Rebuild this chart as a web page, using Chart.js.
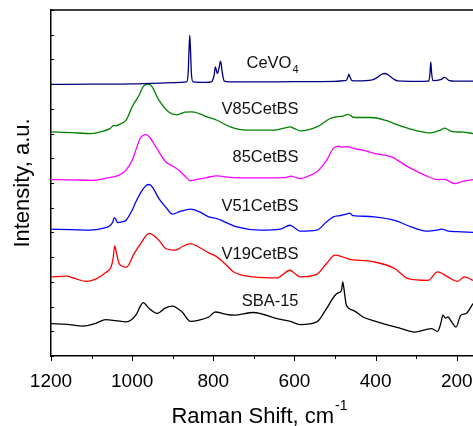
<!DOCTYPE html>
<html>
  <head>
    <script src="https://cdn.jsdelivr.net/npm/chart.js"></script>
    <style>
      html, body { margin: 0; padding: 0; background: #fff; overflow: hidden; }
      #wrap { width: 473px; height: 426px; }
    </style>
  </head>
  <body>
    <div id="wrap">
      <canvas id="Chart"></canvas>
    </div>
    <script>
      // Raman spectra, stacked with offsets (intensity in a.u. as plotted)
      const ceVO4X = [1200, 1100, 1000, 900, 880, 866, 862, 860, 858, 856, 854, 850, 820, 805, 798, 795, 790, 786, 782, 778, 773, 760, 700, 600, 500, 478, 472, 468, 466, 463, 458, 443, 411, 395, 385, 377, 368, 355, 345, 296, 272, 269, 266, 264, 262, 259, 240, 230, 218, 206, 160];
      const ceVO4Y = [10.99, 11.00, 11.01, 11.06, 11.07, 11.09, 11.44, 12.30, 12.98, 12.30, 11.44, 11.09, 11.07, 11.09, 11.36, 11.70, 11.43, 11.65, 11.93, 11.48, 11.12, 11.09, 11.09, 11.10, 11.11, 11.14, 11.16, 11.30, 11.40, 11.28, 11.14, 11.13, 11.16, 11.28, 11.40, 11.43, 11.36, 11.20, 11.13, 11.11, 11.12, 11.13, 11.45, 11.90, 11.45, 11.14, 11.18, 11.27, 11.14, 11.12, 11.12];

      const v85X = [1200, 1150, 1101, 1075, 1055, 1045, 1040, 1030, 1015, 1000, 983, 972, 960, 952, 934, 909, 890, 870, 853, 835, 819, 791, 758, 717, 651, 625, 611, 600, 586, 545, 512, 496, 480, 467, 455, 439, 411, 377, 337, 304, 263, 240, 230, 215, 206, 185, 160];
      const v85Y = [9.07, 9.04, 9.00, 9.08, 9.20, 9.33, 9.31, 9.38, 9.54, 10.08, 10.55, 10.92, 11.00, 10.92, 10.35, 9.86, 9.76, 9.87, 9.88, 9.81, 9.70, 9.54, 9.27, 9.14, 9.14, 9.22, 9.27, 9.20, 9.11, 9.27, 9.61, 9.68, 9.71, 9.78, 9.66, 9.65, 9.65, 9.54, 9.30, 9.14, 9.03, 9.14, 9.22, 9.10, 9.07, 9.06, 9.00];

      const c85X = [1200, 1150, 1098, 1060, 1032, 1015, 1000, 991, 980, 966, 955, 942, 917, 900, 885, 870, 856, 840, 819, 791, 760, 717, 651, 620, 607, 595, 586, 560, 545, 521, 504, 490, 484, 470, 455, 431, 402, 361, 320, 279, 247, 230, 206, 185, 160];
      const c85Y = [7.14, 7.13, 7.11, 7.21, 7.32, 7.52, 7.92, 8.33, 8.81, 8.96, 8.81, 8.47, 7.85, 7.68, 7.52, 7.28, 7.09, 7.15, 7.21, 7.29, 7.23, 7.21, 7.21, 7.23, 7.28, 7.21, 7.18, 7.32, 7.45, 7.92, 8.40, 8.49, 8.45, 8.47, 8.40, 8.33, 8.19, 8.06, 7.65, 7.32, 7.14, 7.15, 6.98, 7.07, 7.14];

      const v51X = [1200, 1150, 1105, 1070, 1056, 1048, 1044, 1040, 1036, 1025, 1015, 1000, 991, 975, 965, 958, 950, 934, 915, 901, 880, 856, 835, 811, 791, 742, 684, 635, 611, 600, 586, 545, 521, 504, 488, 472, 465, 455, 439, 404, 353, 310, 271, 250, 238, 220, 200, 160];
      const v51Y = [5.13, 5.11, 5.09, 5.17, 5.26, 5.41, 5.60, 5.53, 5.40, 5.43, 5.49, 5.90, 6.23, 6.71, 6.91, 6.94, 6.83, 6.37, 5.98, 5.74, 5.86, 5.94, 5.84, 5.63, 5.56, 5.22, 5.09, 5.13, 5.29, 5.19, 5.05, 5.09, 5.43, 5.63, 5.68, 5.74, 5.78, 5.68, 5.66, 5.63, 5.49, 5.21, 5.05, 5.09, 5.13, 5.05, 5.03, 5.00];

      const v19X = [1200, 1163, 1140, 1114, 1090, 1065, 1052, 1047, 1043, 1039, 1032, 1014, 995, 979, 958, 945, 934, 917, 893, 875, 856, 835, 811, 791, 770, 750, 701, 643, 611, 600, 586, 545, 521, 500, 480, 463, 435, 404, 353, 320, 271, 247, 222, 198, 181, 160];
      const v19Y = [3.20, 3.23, 3.13, 3.02, 3.11, 3.38, 3.60, 3.95, 4.45, 4.20, 3.74, 3.60, 4.15, 4.55, 4.96, 4.85, 4.68, 4.35, 4.28, 4.44, 4.55, 4.40, 4.17, 4.01, 3.71, 3.40, 3.20, 3.16, 3.47, 3.35, 3.20, 3.30, 3.74, 4.08, 4.00, 3.91, 3.87, 3.81, 3.54, 3.13, 3.06, 3.40, 3.20, 3.02, 3.20, 3.06];

      const sbaX = [1200, 1160, 1122, 1090, 1065, 1040, 1015, 991, 980, 973, 958, 938, 920, 901, 877, 856, 835, 811, 795, 770, 750, 701, 643, 610, 586, 545, 521, 500, 490, 484, 481, 476, 472, 455, 431, 404, 337, 304, 263, 247, 240, 234, 228, 222, 212, 202, 190, 177, 160];
      const sbaY = [1.31, 1.28, 1.21, 1.32, 1.47, 1.43, 1.38, 1.65, 2.01, 2.16, 1.92, 1.72, 1.93, 2.02, 1.78, 1.40, 1.45, 1.58, 1.78, 1.69, 1.65, 1.76, 1.51, 1.40, 1.27, 1.38, 1.92, 2.46, 2.57, 2.66, 3.00, 2.46, 2.05, 1.85, 1.58, 1.42, 1.11, 0.97, 1.11, 1.00, 1.28, 1.65, 1.53, 1.58, 1.36, 1.17, 1.65, 1.72, 2.12];

      const seriesNames = ["CeVO", "V85CetBS", "85CetBS", "V51CetBS", "V19CetBS", "SBA-15"];
      const seriesSubs = ["4", "", "", "", "", ""];
      const seriesColors = ["#000080", "#008000", "#ff00ff", "#0000ff", "#ff0000", "#000000"];
      const labelLevels = [11.9, 10.04, 8.07, 6.1, 4.18, 2.26];

      const xTicks = [200, 400, 600, 800, 1000, 1200];
      const xMinor = [300, 500, 700, 900, 1100];

      const FONT = "'Liberation Sans', Arial, sans-serif";

      function pairs(xs, ys) {
        return xs.map((x, i) => ({ x: x, y: ys[i] }));
      }

      const allX = [ceVO4X, v85X, c85X, v51X, v19X, sbaX];
      const allY = [ceVO4Y, v85Y, c85Y, v51Y, v19Y, sbaY];

      const datasets = allX.map((xs, i) => ({
        label: seriesNames[i] + seriesSubs[i],
        data: pairs(xs, allY[i]),
        borderColor: seriesColors[i],
        borderWidth: 1.3,
        pointRadius: 0,
        cubicInterpolationMode: "monotone",
        fill: false,
      }));

      // axis decorations, titles and curve labels
      const decor = {
        id: "decor",
        afterDraw(chart) {
          const { ctx, chartArea: a, scales } = chart;
          const x = scales.x, y = scales.y;
          const right = chart.width;
          ctx.save();
          ctx.strokeStyle = "#000";
          ctx.lineWidth = 1.5;
          ctx.beginPath();
          ctx.moveTo(a.left, a.top);
          ctx.lineTo(right, a.top);
          ctx.stroke();

          ctx.lineWidth = 1;
          ctx.beginPath();
          y.ticks.forEach((t) => {
            const py = Math.round(y.getPixelForValue(t.value)) + 0.5;
            ctx.moveTo(a.left, py);
            ctx.lineTo(a.left + 3, py);
          });
          xTicks.forEach((v) => {
            const px = Math.round(x.getPixelForValue(v)) + 0.5;
            ctx.moveTo(px, a.bottom);
            ctx.lineTo(px, a.bottom + 5);
          });
          xMinor.forEach((v) => {
            const px = Math.round(x.getPixelForValue(v)) + 0.5;
            ctx.moveTo(px, a.bottom);
            ctx.lineTo(px, a.bottom + 3);
          });
          ctx.stroke();

          ctx.fillStyle = "#000";
          // x title with superscript
          ctx.textBaseline = "alphabetic";
          ctx.textAlign = "left";
          ctx.font = "22px " + FONT;
          const main = "Raman Shift, cm";
          const mw = ctx.measureText(main).width;
          ctx.font = "14px " + FONT;
          const sw = ctx.measureText("-1").width;
          const cx = (a.left + right) / 2 - 3;
          const x0 = cx - (mw + sw) / 2;
          ctx.font = "22px " + FONT;
          ctx.fillText(main, x0, 422.5);
          ctx.font = "14px " + FONT;
          ctx.fillText("-1", x0 + mw + 1, 410);

          // y title
          ctx.save();
          ctx.translate(29, (a.top + a.bottom) / 2);
          ctx.rotate(-Math.PI / 2);
          ctx.textAlign = "center";
          ctx.font = "22px " + FONT;
          ctx.fillText("Intensity, a.u.", 0, 0);
          ctx.restore();

          // curve labels, right aligned
          const rx = x.getPixelForValue(590);
          seriesNames.forEach((name, i) => {
            const base = y.getPixelForValue(labelLevels[i]) + 0.358 * 16.5;
            ctx.font = "16.5px " + FONT;
            const w1 = ctx.measureText(name).width;
            ctx.font = "11px " + FONT;
            const w2 = seriesSubs[i] ? ctx.measureText(seriesSubs[i]).width + 1 : 0;
            ctx.font = "16.5px " + FONT;
            ctx.fillStyle = "#111";
            ctx.fillText(name, rx - w1 - w2, base);
            if (seriesSubs[i]) {
              ctx.font = "11px " + FONT;
              ctx.fillText(seriesSubs[i], rx - w2 + 1, base + 5);
            }
          });
          ctx.restore();
        },
      };

      new Chart(document.getElementById("Chart"), {
        type: "line",
        data: { datasets: datasets },
        options: {
          responsive: true,
          maintainAspectRatio: false,
          animation: false,
          layout: { padding: { top: 10, right: 0, left: 0, bottom: 0 } },
          plugins: { legend: { display: false }, tooltip: { enabled: false } },
          scales: {
            x: {
              type: "linear",
              reverse: true,
              min: 160,
              max: 1200,
              grid: { display: false },
              border: { display: true, color: "#000", width: 1.5 },
              ticks: {
                maxRotation: 0,
                autoSkip: false,
                padding: 6,
                color: "#000",
                font: { family: FONT, size: 19 },
                callback: (v) => String(v),
              },
              afterBuildTicks: (s) => { s.ticks = xTicks.map((v) => ({ value: v })); },
              afterFit: (s) => { s.height = 70; },
            },
            y: {
              min: 0,
              max: 14,
              grid: { display: false },
              border: { display: true, color: "#000", width: 1.5 },
              ticks: { display: false, stepSize: 1 },
              afterFit: (s) => { s.width = 51; },
            },
          },
        },
        plugins: [decor],
      });
    </script>
  </body>
</html>
